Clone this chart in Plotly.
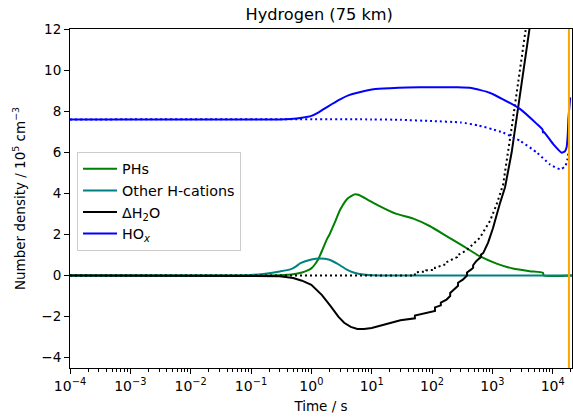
import plotly.graph_objects as go

# ---- data (time in s, number density in 1e5 cm^-3) ----
hox_t = [1e-4, 0.1, 0.3, 0.45, 0.7, 1.0, 1.3, 1.6, 2.2, 3.0, 4.2, 5.8, 10.7, 20, 39, 100, 260, 450,
         900, 1500, 2900, 5500, 6800, 6900, 7000, 10200, 14100, 16000, 17000, 17800, 18200, 19500]
hox_v = [7.6, 7.6, 7.6, 7.62, 7.68, 7.77, 7.93, 8.1, 8.35, 8.58, 8.78, 8.9, 9.07, 9.12, 9.15, 9.17, 9.16, 9.13,
         8.9, 8.58, 8.1, 7.37, 7.1, 6.96, 7.02, 6.4, 5.98, 6.05, 6.24, 6.9, 7.6, 8.67]

hox_dot_t = [1e-4, 10, 30, 100, 300, 600, 1000, 1500, 2900, 5500, 9100, 13500, 16200, 17500, 18200]
hox_dot_v = [7.6, 7.6, 7.58, 7.52, 7.45, 7.3, 7.12, 6.96, 6.55, 5.98, 5.4, 5.17, 5.33, 5.65, 6.0]

phs_t = [1e-4, 0.1, 0.3, 0.5, 0.7, 0.85, 1.0, 1.15, 1.32, 1.55, 1.8, 2.0, 2.5, 3.0, 4.0, 5.2, 6.0, 8.5,
         13.5, 25.7, 49, 93, 174, 331, 617, 1175, 2190, 4170, 6900, 7100, 21000]
phs_v = [0, 0, 0.02, 0.06, 0.15, 0.24, 0.35, 0.55, 0.83, 1.3, 1.75, 2.0, 2.65, 3.2, 3.75, 3.95, 3.93, 3.7,
         3.38, 3.0, 2.77, 2.4, 1.92, 1.43, 0.94, 0.58, 0.34, 0.21, 0.13, 0, 0]

oth_t = [1e-4, 0.03, 0.1, 0.16, 0.3, 0.45, 0.56, 0.66, 1.0, 1.38, 2.0, 2.8, 3.8, 5.0, 6.3, 10, 20, 21000]
oth_v = [0, 0, 0.03, 0.08, 0.2, 0.3, 0.45, 0.6, 0.78, 0.83, 0.77, 0.55, 0.3, 0.15, 0.08, 0.01, 0, 0]

dh2o_t = [1e-4, 0.1, 0.3, 0.5, 0.7, 1.0, 1.5, 2.1, 2.8, 3.5, 4.5, 5.8, 7.5, 10, 20, 30, 52, 52, 112, 112,
          140, 140, 174, 200, 200, 234, 270, 270, 324, 380, 380, 447, 480, 480, 540, 617, 650, 650,
          708, 850, 1023, 1318, 1622, 2090, 2510, 3240, 4170, 5000]
dh2o_v = [0, 0, -0.03, -0.12, -0.25, -0.45, -0.95, -1.5, -2.0, -2.3, -2.5, -2.6, -2.6, -2.55, -2.3, -2.18,
          -2.08, -1.95, -1.72, -1.55, -1.45, -1.32, -1.17, -1.0, -0.85, -0.68, -0.5, -0.35, -0.2, 0.0,
          0.15, 0.3, 0.38, 0.5, 0.7, 0.85, 0.9, 1.02, 1.1, 1.6, 2.3, 3.46, 4.3, 6.0, 7.6, 10.0, 12.1, 14.5]

dh2o_dot_t = [1e-4, 52, 52, 80, 80, 112, 112, 160, 160, 219, 260, 260, 363, 617, 912, 1175, 1510,
              2190, 3630, 5000]
dh2o_dot_v = [0, 0, 0.15, 0.2, 0.25, 0.28, 0.38, 0.52, 0.6, 0.78, 0.9, 0.98, 1.2, 1.83, 2.65, 3.46,
              4.44, 7.6, 12.0, 15.0]

end_time = [18600, 18600]
end_span = [-10, 20]

x_tick_exponents = [-4, -3, -2, -1, 0, 1, 2, 3, 4]
y_ticks = [-4, -2, 0, 2, 4, 6, 8, 10, 12]

labels = ["PHs", "Other H-cations", "ΔH<sub>2</sub>O", "HO<sub><i>x</i></sub>"]
colors = ["#008000", "#008080", "#000000", "#0000ff"]

x_tickvals = [10.0 ** e for e in x_tick_exponents]
x_ticktext = ["10<sup>%s</sup>" % (str(e).replace("-", "−")) for e in x_tick_exponents]
x_minor = [k * 10.0 ** e for e in x_tick_exponents for k in range(2, 10)]

LW = 2
DOT = "2px,3px"
fig = go.Figure()
fig.add_trace(go.Scatter(x=phs_t, y=phs_v, mode="lines", name=labels[0],
                         line=dict(color=colors[0], width=LW, shape="spline", smoothing=0.5)))
fig.add_trace(go.Scatter(x=oth_t, y=oth_v, mode="lines", name=labels[1],
                         line=dict(color=colors[1], width=LW, shape="spline", smoothing=0.5)))
fig.add_trace(go.Scatter(x=dh2o_t, y=dh2o_v, mode="lines", name=labels[2],
                         line=dict(color=colors[2], width=LW)))
fig.add_trace(go.Scatter(x=dh2o_dot_t, y=dh2o_dot_v, mode="lines", showlegend=False,
                         line=dict(color=colors[2], width=LW, dash=DOT)))
fig.add_trace(go.Scatter(x=hox_t, y=hox_v, mode="lines", name=labels[3],
                         line=dict(color=colors[3], width=LW, shape="spline", smoothing=0.4)))
fig.add_trace(go.Scatter(x=hox_dot_t, y=hox_dot_v, mode="lines", showlegend=False,
                         line=dict(color=colors[3], width=LW, dash=DOT, shape="spline", smoothing=0.5)))
fig.add_trace(go.Scatter(x=end_time, y=end_span, mode="lines", showlegend=False,
                         line=dict(color="orange", width=LW)))

font = "DejaVu Sans, sans-serif"
FS = 13.5
fig.update_layout(
    width=573, height=417,
    margin=dict(l=70, r=1, t=29, b=49, autoexpand=False),
    paper_bgcolor="white", plot_bgcolor="white",
    font=dict(family=font, size=FS, color="black"),
    title=dict(text="Hydrogen (75 km)", x=0.557, xanchor="center", y=0.965, yanchor="middle",
               font=dict(size=16.2)),
    showlegend=True,
    legend=dict(x=0.014, y=0.637, xanchor="left", yanchor="top",
                bgcolor="rgba(255,255,255,0.8)", bordercolor="#cccccc", borderwidth=1,
                font=dict(size=14.3), tracegroupgap=0, itemwidth=34),
    xaxis=dict(type="log", range=[-4, 4.32], tickmode="array", tickvals=x_tickvals,
               ticktext=x_ticktext,
               showgrid=False, zeroline=False, showline=True, mirror=True,
               linecolor="black", linewidth=1.1, ticks="outside", ticklen=5, tickcolor="black",
               minor=dict(tickmode="array", tickvals=x_minor, ticks="outside", ticklen=2.7,
                          tickcolor="black", showgrid=False),
               tickfont=dict(size=14),
               title=dict(text="Time / s", font=dict(size=FS), standoff=8)),
    yaxis=dict(range=[-4.5, 12], tickmode="array", tickvals=y_ticks,
               ticktext=[str(v).replace("-", "−") for v in y_ticks],
               showgrid=False, zeroline=False, showline=True,
               mirror=True, linecolor="black", linewidth=1.1, ticks="outside", ticklen=5,
               tickcolor="black", tickfont=dict(size=FS),
               title=dict(text="Number density / 10<sup>5</sup> cm<sup>−3</sup>",
                          font=dict(size=FS), standoff=12)),
)

fig.write_html("out.html", config={"displayModeBar": False},
               post_script="document.body.style.margin='0px';")
